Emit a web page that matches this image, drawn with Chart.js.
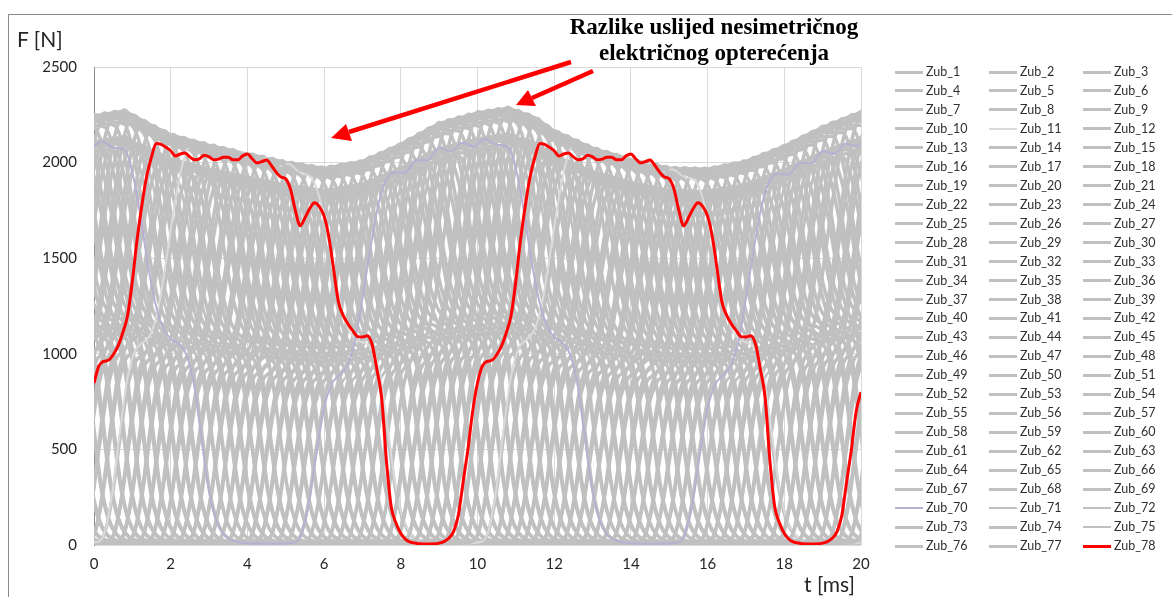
<!DOCTYPE html>
<html>
<head>
<meta charset="utf-8">
<script src="https://cdn.jsdelivr.net/npm/chart.js@4.4.0/dist/chart.umd.min.js"></script>
<style>
    body { margin: 0; background: #fff; width: 1172px; height: 597px; overflow: hidden; position: relative; font-family: Lato, "Open Sans", sans-serif; }
    #frame { position: absolute; left: 8px; top: 14px; width: 1300px; height: 700px; border: 1px solid #8c8c8c; }
    #forceChart { position: absolute; left: 0; top: 0; }
    .axis-title { position: absolute; font-size: 21px; color: #262626; }
    #yTitle { left: 17px; top: 26px; }
    #xTitle { left: 804px; top: 571px; }
    #note { position: absolute; left: 544px; top: 14px; width: 340px; text-align: center; font-family: "Liberation Serif", "DejaVu Serif", serif; font-weight: bold; font-size: 23px; line-height: 26px; color: #000; }
    #arrows { position: absolute; left: 0; top: 0; }
    .legend-item { position: absolute; height: 16px; font-size: 12.5px; color: #303030; line-height: 16px; white-space: nowrap; }
    .legend-item span.swatch { position: absolute; left: 0; top: 8px; width: 28px; }
    .legend-item span.label { position: absolute; left: 31px; top: 0; }
</style>
</head>
<body>
<div id="frame"></div>
<canvas id="forceChart" width="1172" height="597"></canvas>
<div class="axis-title" id="yTitle">F [N]</div>
<div class="axis-title" id="xTitle">t [ms]</div>
<div id="note">Razlike uslijed nesimetričnog<br>električnog opterećenja</div>
<svg id="arrows" width="1172" height="597">
    <g stroke="#ff0000" stroke-width="4.5" fill="#ff0000">
        <line x1="571" y1="62" x2="349" y2="132"/>
        <polygon points="331,138 346,124 352,141" stroke="none"/>
        <line x1="593" y1="71" x2="532" y2="98"/>
        <polygon points="516,105 528,90 536,106" stroke="none"/>
    </g>
</svg>
<div id="legend"></div>

<script>
// Tick values
const xTicks = [0, 2, 4, 6, 8, 10, 12, 14, 16, 18, 20];
const yTicks = [0, 500, 1000, 1500, 2000, 2500];

// Zub_78 (red) over one 10 ms period, sampled every 0.125 ms
const redStep = 0.125;
const redPeriod = [
    847, 935, 960, 966, 995, 1040, 1110, 1200, 1380, 1600,
    1780, 1930, 2030, 2100, 2095, 2080, 2062, 2035, 2045, 2050,
    2030, 2015, 2020, 2038, 2030, 2015, 2018, 2028, 2028, 2015,
    2015, 2035, 2045, 2020, 1998, 2005, 2013, 1985, 1950, 1925,
    1915, 1860, 1750, 1670, 1710, 1760, 1790, 1770, 1720, 1610,
    1440, 1270, 1200, 1155, 1120, 1090, 1088, 1095, 1050, 920,
    770, 440, 200, 115, 60, 30, 15, 10, 6, 5,
    5, 6, 10, 18, 35, 70, 155, 330, 500, 700
];
const redEnd = 800; // value at t = 20 ms

// Generic tooth force over one period (tau = ms after the tooth starts loading)
const shapeTau = [0, 0.2, 0.4, 0.6, 0.8, 1.0, 1.2, 1.4, 1.6, 1.8, 2.0, 2.2, 2.4, 2.6, 2.9, 3.2, 3.5, 3.8, 4.1, 4.4,
                  4.7, 5.0, 5.3, 5.6, 5.8, 6.0, 6.2, 6.4, 6.6, 6.8, 7.0, 7.2, 7.4, 7.6, 7.8, 8.0, 8.2, 8.5, 9.0, 9.5];
const shapeF   = [15, 60, 250, 550, 820, 960, 1010, 1060, 1200, 1450, 1720, 1950, 2080, 2110, 2080, 2115, 2085, 2120, 2085, 2115,
                  2080, 2110, 2070, 2050, 1950, 1750, 1500, 1300, 1180, 1130, 1110, 1060, 900, 600, 300, 130, 55, 20, 8, 8];
const shapePeak = 2120;

// Upper envelope of the grey teeth (asymmetric load)
const envT   = [0, 0.8, 1.5, 2, 3, 4, 5, 6, 7, 8, 9, 10, 10.8, 11.5, 12, 13, 14, 15, 16, 17, 18, 19, 20];
const envTop = [2250, 2275, 2200, 2150, 2095, 2050, 2005, 1975, 2010, 2100, 2210, 2265, 2290, 2240, 2170, 2080, 2020, 1975, 1970, 2010, 2090, 2190, 2270];

// Tooth phases: 39 phase positions per period, two load levels
const period = 10;
const phaseCount = 39;
const phaseOffset = -2.49;
const loadLevel = [1.0, 0.94];

function envelopeAt(t) {
    if (t <= envT[0]) return envTop[0];
    for (let i = 1; i < envT.length; i++) {
        if (t <= envT[i]) {
            const f = (t - envT[i - 1]) / (envT[i] - envT[i - 1]);
            return envTop[i - 1] + f * (envTop[i] - envTop[i - 1]);
        }
    }
    return envTop[envTop.length - 1];
}

function toothPoints(j) {
    const phase = (j % phaseCount) * period / phaseCount + phaseOffset;
    const level = loadLevel[Math.floor(j / phaseCount)];
    const pts = [];
    for (let p = -1; p <= 2; p++) {
        shapeTau.forEach((tau, i) => {
            const t = phase + p * period + tau;
            if (t >= -2 && t <= 22) {
                pts.push({ x: t, y: shapeF[i] * envelopeAt(t) / shapePeak * level });
            }
        });
    }
    return pts;
}

function redPoints() {
    const pts = [];
    for (let i = 0; i <= 160; i++) {
        pts.push({ x: i * redStep, y: i === 160 ? redEnd : redPeriod[i % redPeriod.length] });
    }
    return pts;
}

const datasets = [];
for (let j = 0; j < 77; j++) {
    const name = 'Zub_' + (j + 1);
    let color = '#c0c0c0', width = 3.5, order = 2;
    if (name === 'Zub_11') { color = '#dadada'; width = 2; }
    if (name === 'Zub_70') { color = '#b8b0d2'; width = 2; order = 1; }
    if (name === 'Zub_71' || name === 'Zub_72' || name === 'Zub_75') { width = 2.5; }
    datasets.push({
        label: name,
        data: toothPoints(j),
        borderColor: color,
        borderWidth: width,
        order: order
    });
}
datasets.push({
    label: 'Zub_78',
    data: redPoints(),
    borderColor: '#ff0000',
    borderWidth: 3,
    order: 0
});

new Chart(document.getElementById('forceChart'), {
    type: 'line',
    data: { datasets: datasets },
    options: {
        responsive: false,
        animation: false,
        elements: {
            point: { radius: 0 },
            line: { cubicInterpolationMode: 'monotone', fill: false }
        },
        datasets: { line: { clip: 0 } },
        layout: { padding: { left: 14, top: 67, right: 311, bottom: 22 } },
        plugins: { legend: { display: false }, tooltip: { enabled: false } },
        scales: {
            x: {
                type: 'linear',
                min: 0, max: 20,
                afterBuildTicks: s => { s.ticks = xTicks.map(v => ({ value: v })); },
                afterFit: s => { s.height = 30; },
                ticks: { color: '#262626', font: { family: 'Lato', size: 15 }, padding: 10, maxRotation: 0,
                         callback: v => String(v) },
                grid: { color: '#d9d9d9', drawTicks: false },
                border: { display: false }
            },
            y: {
                min: 0, max: 2500,
                afterBuildTicks: s => { s.ticks = yTicks.map(v => ({ value: v })); },
                afterFit: s => { s.width = 80; },
                ticks: { color: '#262626', font: { family: 'Lato', size: 15 }, padding: 17,
                         callback: v => String(v) },
                grid: { color: '#d9d9d9', drawTicks: false },
                border: { display: true, color: '#8c8c8c' }
            }
        }
    }
});

// Legend, row by row in three columns
const legend = document.getElementById('legend');
datasets.forEach((ds, i) => {
    const item = document.createElement('div');
    item.className = 'legend-item';
    item.style.left = (895 + (i % 3) * 94) + 'px';
    item.style.top = (64 + Math.floor(i / 3) * 18.96) + 'px';
    const w = Math.min(ds.borderWidth, 3);
    item.innerHTML = `<span class="swatch" style="border-top:${w}px solid ${ds.borderColor};margin-top:-${w / 2}px"></span><span class="label">${ds.label}</span>`;
    legend.appendChild(item);
});
</script>
</body>
</html>
